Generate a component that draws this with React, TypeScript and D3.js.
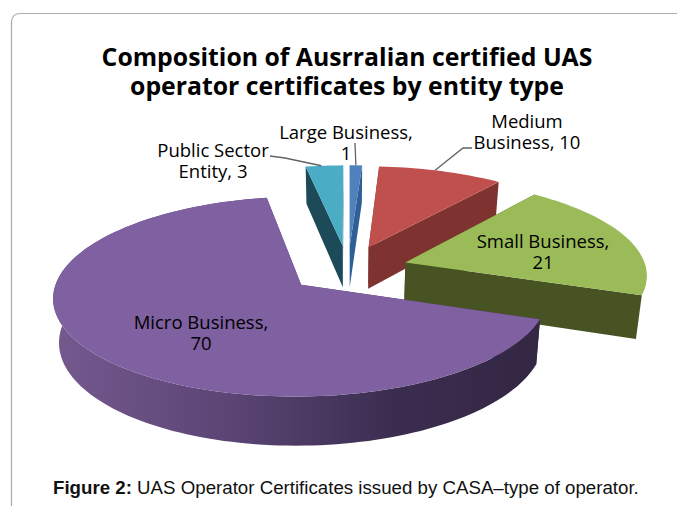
import React from "react";
import * as d3 from "d3";

const categories = ["Large Business", "Medium Business", "Small Business", "Micro Business", "Public Sector Entity"];
const values = [1, 10, 21, 70, 3];
const topColors = ["#4f81bd", "#c0504d", "#9bbb59", "#7f60a0", "#4bacc6"];
const sideColors = ["#2f5f96", "#7f3331", "#485323", "url(#purpleWall)", "#1c4a58"];
const showWall = [false, false, false, true, false];
const drawOrder = [4, 0, 1, 2, 3];
const labelLines = [
  ["Large Business,", "1"],
  ["Medium", "Business, 10"],
  ["Small Business,", "21"],
  ["Micro Business,", "70"],
  ["Public Sector", "Entity, 3"],
];
const labelPos: [number, number][] = [[346, 139], [527, 128], [543, 248], [201, 329], [213, 157]];
const leaderElbows: ([number, number][] | null)[] = [
  [[355, 143]],
  [[472, 148], [463, 148]],
  null,
  null,
  [[270, 156], [285, 158]],
];
const leaderAnchors = [0.5, 0.45, 0, 0, 0.42];
const titleLines = ["Composition of Ausrralian certified UAS", "operator certificates by entity type"];

const W = 677, H = 506;
const cx = 348, cy = 269, ra = 241, rb = 95, persp = 0.116, explode = 0.25, depth = 42.5, shrink = 0.02;

const proj = (X: number, Y: number, z = 0): [number, number] => {
  const p = 1 / (1 + persp * Y);
  const x = ra * X * p, y = -rb * Y * p;
  return z ? [cx + x * (1 - shrink), cy + y + depth * p] : [cx + x, cy + y];
};

const arcs = d3.pie<number>().sort(null).startAngle(0).endAngle(2 * Math.PI)(values);
const line = d3.line();

export default function App() {
  const pieces = arcs.map((a, i) => {
    const mid = (a.startAngle + a.endAngle) / 2;
    const ox = explode * Math.sin(mid), oy = explode * Math.cos(mid);
    const n = Math.max(2, Math.ceil((a.endAngle - a.startAngle) / 0.03));
    const angles = d3.range(n + 1).map((k) => a.startAngle + ((a.endAngle - a.startAngle) * k) / n);
    const rim = angles.map((t) => [ox + Math.sin(t), oy + Math.cos(t)] as [number, number]);
    const apex: [number, number] = [ox, oy];
    const top = line([proj(...apex), ...rim.map((p) => proj(...p))]) + "Z";
    const wall = line([...rim.map((p) => proj(...p)), ...rim.slice().reverse().map((p) => proj(p[0], p[1], 1))]) + "Z";
    const cut = (p: [number, number]) =>
      line([proj(...apex), proj(...p), proj(p[0], p[1], 1), proj(apex[0], apex[1], 1)]) + "Z";
    const t = a.startAngle + (a.endAngle - a.startAngle) * leaderAnchors[i];
    return { i, top, wall, cutA: cut(rim[0]), cutB: cut(rim[n]), anchor: proj(ox + Math.sin(t), oy + Math.cos(t)) };
  });

  return (
    <svg width={W} height={H} viewBox={`0 0 ${W} ${H}`} style={{ position: "absolute", left: 0, top: 0, display: "block", background: "#fff" }}>
      <defs>
        <linearGradient id="purpleWall" gradientUnits="userSpaceOnUse" x1={50} x2={540} y1={0} y2={0}>
          <stop offset="0" stopColor="#75598f" />
          <stop offset="0.35" stopColor="#5c4676" />
          <stop offset="0.7" stopColor="#3b2d50" />
          <stop offset="1" stopColor="#332743" />
        </linearGradient>
      </defs>
      <path d={`M11.5 ${H}V22.5Q11.5 13.5 20.5 13.5H${W}`} fill="none" stroke="#aaaaaa" strokeWidth={1.2} />
      <text textAnchor="middle" fontFamily="'Open Sans'" fontWeight={700} fontSize={24.8} fill="#000">
        {titleLines.map((t, i) => (
          <tspan key={t} x={347} y={66 + i * 29}>{t}</tspan>
        ))}
      </text>
      {drawOrder.map((idx) => {
        const s = pieces[idx];
        return (
          <g key={categories[idx]}>
            {showWall[idx] && <path d={s.wall} fill={sideColors[idx]} />}
            <path d={s.cutA} fill={sideColors[idx]} />
            <path d={s.cutB} fill={sideColors[idx]} />
            <path d={s.top} fill={topColors[idx]} />
          </g>
        );
      })}
      {pieces.map((s) => {
        const el = leaderElbows[s.i];
        if (!el) return null;
        return <path key={s.i} d={line([...el, s.anchor]) as string} fill="none" stroke="#5f6468" strokeWidth={1.3} />;
      })}
      {labelLines.map((ls, i) => (
        <text key={categories[i]} textAnchor="middle" fontFamily="'Open Sans'" fontSize={18.5} fill="#000">
          {ls.map((t, j) => (
            <tspan key={t} x={labelPos[i][0]} y={labelPos[i][1] + j * 21}>{t}</tspan>
          ))}
        </text>
      ))}
      <text x={53} y={494} fontFamily="'Liberation Sans'" fontSize={18.7} fill="#111">
        <tspan fontWeight={700}>Figure 2:</tspan> UAS Operator Certificates issued by CASA–type of operator.
      </text>
    </svg>
  );
}
